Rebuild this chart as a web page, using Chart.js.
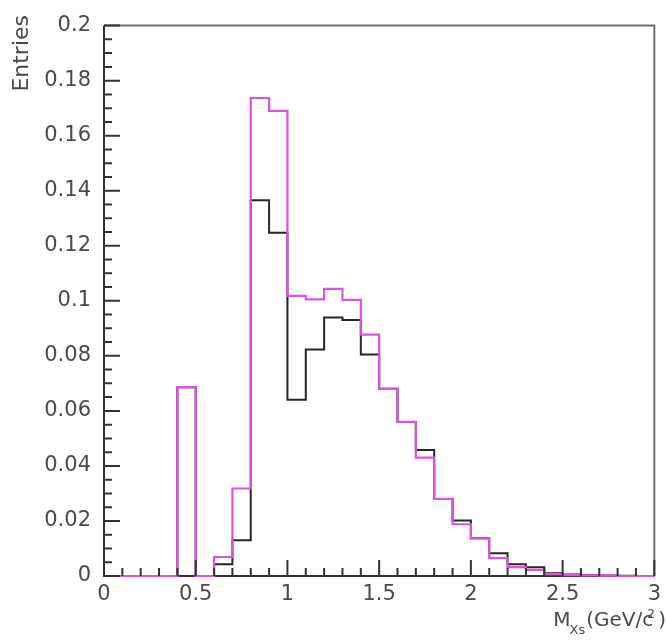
<!DOCTYPE html>
<html>
<head>
<meta charset="utf-8">
<script src="https://cdn.jsdelivr.net/npm/chart.js@4.4.0/dist/chart.umd.min.js"></script>
<style>
  html, body { margin: 0; padding: 0; background: #ffffff; }
  #wrap { width: 667px; height: 640px; }
</style>
</head>
<body>
<div id="wrap"><canvas id="c" width="667" height="640"></canvas></div>
<script>
// ---- data (bin contents, bins of width 0.1 from 0 to 3 GeV/c^2) ----
const binEdges = [0,0.1,0.2,0.3,0.4,0.5,0.6,0.7,0.8,0.9,1.0,1.1,1.2,1.3,1.4,1.5,1.6,1.7,1.8,1.9,2.0,2.1,2.2,2.3,2.4,2.5,2.6,2.7,2.8,2.9,3.0];
const blackHist = [0,0,0,0,0.0686,0,0.0043,0.0130,0.1365,0.1247,0.0640,0.0823,0.0939,0.0930,0.0805,0.0680,0.0560,0.0458,0.0280,0.0202,0.0137,0.0083,0.0043,0.0032,0.0010,0.0005,0.0003,0.0002,0.0001,0];
const magentaHist = [0,0,0,0,0.0686,0,0.0069,0.0318,0.1737,0.1690,0.1018,0.1005,0.1043,0.1003,0.0877,0.0680,0.0560,0.0430,0.0280,0.0188,0.0137,0.0065,0.0032,0.0022,0.0007,0.0003,0.0002,0.0001,0,0];
const xTickValues = [0,0.5,1,1.5,2,2.5,3];
const xTickLabels = ['0','0.5','1','1.5','2','2.5','3'];
const yTickValues = [0,0.02,0.04,0.06,0.08,0.1,0.12,0.14,0.16,0.18,0.2];
const yTickLabels = ['0','0.02','0.04','0.06','0.08','0.1','0.12','0.14','0.16','0.18','0.2'];

function toSteps(vals) {
  const pts = vals.map((v, i) => ({ x: binEdges[i], y: v }));
  pts.push({ x: binEdges[binEdges.length - 1], y: vals[vals.length - 1] });
  return pts;
}

const FONT = "'DejaVu Sans', 'Liberation Sans', sans-serif";
const TEXT = '#4a4a4a';

const decor = {
  id: 'decor',
  beforeDatasetsDraw(chart) {
    const { ctx, chartArea: a } = chart;
    ctx.save();
    ctx.strokeStyle = '#707070';
    ctx.lineWidth = 2;
    ctx.beginPath();
    ctx.moveTo(a.left, a.top);
    ctx.lineTo(a.right, a.top);
    ctx.lineTo(a.right, a.bottom);
    ctx.stroke();
    ctx.strokeStyle = '#333333';
    ctx.beginPath();
    ctx.moveTo(a.left, a.top);
    ctx.lineTo(a.left, a.bottom);
    ctx.lineTo(a.right, a.bottom);
    ctx.stroke();
    ctx.restore();
  },
  afterDatasetsDraw(chart) {
    const { ctx, chartArea: a, scales } = chart;
    const xs = scales.x, ys = scales.y;
    ctx.save();
    ctx.strokeStyle = '#333333';
    ctx.lineWidth = 2;
    ctx.beginPath();
    for (let i = 0; i <= 30; i++) {
      const px = xs.getPixelForValue(i * 0.1);
      const len = (i % 5 === 0) ? 16 : 8;
      ctx.moveTo(px, a.bottom);
      ctx.lineTo(px, a.bottom - len);
    }
    for (let j = 0; j <= 40; j++) {
      const py = ys.getPixelForValue(j * 0.005);
      const len = (j % 4 === 0) ? 16 : 8;
      ctx.moveTo(a.left, py);
      ctx.lineTo(a.left + len, py);
    }
    ctx.stroke();
    ctx.restore();
  },
  afterDraw(chart) {
    const { ctx } = chart;
    ctx.save();
    ctx.fillStyle = TEXT;
    // y title
    ctx.translate(28, 15);
    ctx.rotate(-Math.PI / 2);
    ctx.font = '22px ' + FONT;
    ctx.textAlign = 'right';
    ctx.textBaseline = 'alphabetic';
    ctx.fillText('Entries', 0, 0);
    ctx.restore();

    // x title: M_{Xs}(GeV/c^2)
    ctx.save();
    ctx.fillStyle = TEXT;
    ctx.textBaseline = 'alphabetic';
    ctx.textAlign = 'left';
    const base = 626;
    const big = '20px ' + FONT, sub = '13px ' + FONT, sup = '12px ' + FONT;
    ctx.font = big; const wM = ctx.measureText('M').width;
    const wMid = ctx.measureText('(GeV/c').width;
    const wEnd = ctx.measureText(')').width;
    ctx.font = sub; const wSub = ctx.measureText('Xs').width;
    const total = wM + wSub + wMid + 5 + wEnd;
    let x = 666 - total;
    ctx.font = big; ctx.fillText('M', x, base); x += wM;
    ctx.font = sub; ctx.fillText('Xs', x - 1, base + 8); x += wSub;
    ctx.font = big; ctx.fillText('(GeV/c', x, base); x += wMid;
    ctx.font = sup; ctx.fillText('2', x - 6, base - 8);
    x += 5;
    ctx.font = big; ctx.fillText(')', x, base);
    ctx.restore();
  }
};

new Chart(document.getElementById('c'), {
  type: 'line',
  data: {
    datasets: [
      {
        label: 'magenta',
        data: toSteps(magentaHist),
        borderColor: '#e050e0',
        borderWidth: 2.2,
        stepped: true,
        pointRadius: 0,
        fill: false,
        clip: false
      },
      {
        label: 'black',
        data: toSteps(blackHist),
        borderColor: '#262626',
        borderWidth: 2,
        stepped: true,
        pointRadius: 0,
        fill: false,
        clip: false
      }
    ]
  },
  options: {
    responsive: false,
    animation: false,
    events: [],
    layout: { padding: { top: 22, right: 9, left: 0, bottom: 0 } },
    plugins: { legend: { display: false }, tooltip: { enabled: false }, title: { display: false } },
    scales: {
      x: {
        type: 'linear',
        min: 0, max: 3,
        afterBuildTicks: (s) => { s.ticks = xTickValues.map(v => ({ value: v })); },
        afterFit: (s) => { s.height = 64; },
        grid: { display: false, drawTicks: false },
        border: { display: false },
        ticks: {
          padding: 6,
          maxRotation: 0,
          autoSkip: false,
          color: TEXT,
          font: { family: FONT, size: 21 },
          callback: (v) => { const k = xTickValues.indexOf(v); return k >= 0 ? xTickLabels[k] : ''; }
        }
      },
      y: {
        type: 'linear',
        min: 0, max: 0.2,
        afterBuildTicks: (s) => { s.ticks = yTickValues.map(v => ({ value: v })); },
        afterFit: (s) => { s.width = 104; },
        grid: { display: false, drawTicks: false },
        border: { display: false },
        ticks: {
          padding: 13,
          autoSkip: false,
          color: TEXT,
          font: { family: FONT, size: 21 },
          callback: (v) => {
            let k = -1;
            yTickValues.forEach((t, i) => { if (Math.abs(t - v) < 1e-9) k = i; });
            return k >= 0 ? yTickLabels[k] : '';
          }
        }
      }
    }
  },
  plugins: [decor]
});
</script>
</body>
</html>
